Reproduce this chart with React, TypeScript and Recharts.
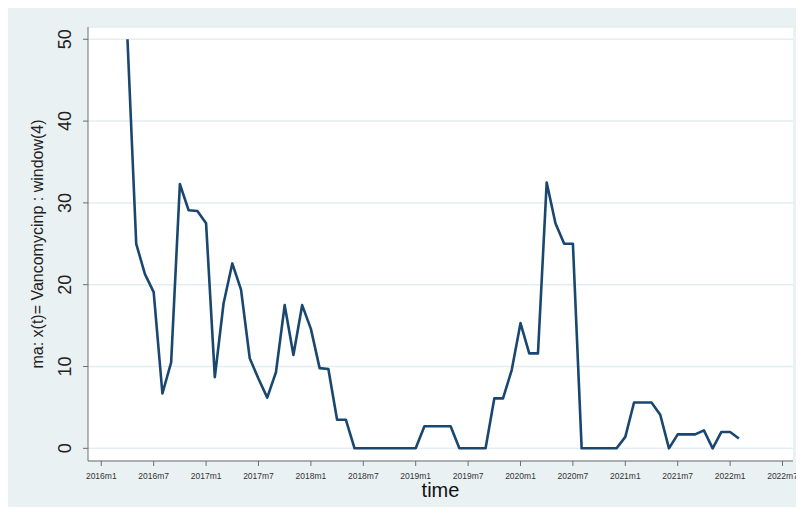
import React from 'react';
import { LineChart, Line, XAxis, YAxis, CartesianGrid } from 'recharts';

// months counted from 2016m1 = 0; series starts at 2016m4
const startMonth = 3;

// ma: x(t)= Vancomycinp : window(4), 2016m4 .. 2022m2
const maValues = [
  50, 25, 21.3, 19.1, 6.7, 10.5, 32.3, 29.1, 29.0,
  27.5, 8.7, 17.7, 22.6, 19.4, 11.0, 8.5, 6.2, 9.3, 17.5, 11.4, 17.5,
  14.6, 9.8, 9.7, 3.5, 3.5, 0, 0, 0, 0, 0, 0,
  0, 0, 2.7, 2.7, 2.7, 2.7, 0, 0, 0, 0,
  6.1, 6.1, 9.6, 15.3, 11.6, 11.6, 32.5, 27.5, 25.0, 25.0, 0, 0, 0, 0, 0,
  1.4, 5.6, 5.6, 5.6, 4.1, 0, 1.7, 1.7, 1.7, 2.2, 0, 2.0,
  2.0, 1.2
];

const xTickMonths = [0, 6, 12, 18, 24, 30, 36, 42, 48, 54, 60, 66, 72, 78];
const xTickLabels = [
  '2016m1', '2016m7', '2017m1', '2017m7', '2018m1', '2018m7', '2019m1',
  '2019m7', '2020m1', '2020m7', '2021m1', '2021m7', '2022m1', '2022m7'
];
const yTicks = [0, 10, 20, 30, 40, 50];

const data = maValues.map((v, i) => ({ t: startMonth + i, ma: v }));

const FONT = 'Arial, "Liberation Sans", Helvetica, sans-serif';
const AXIS_COLOR = '#6e6e6e';

function YTick(props: any) {
  const { x, y, payload } = props;
  return (
    <text
      transform={`translate(${x - 12}, ${y}) rotate(-90)`}
      textAnchor="middle"
      fontSize={18}
      fontFamily={FONT}
      fill="#222"
    >
      {payload.value}
    </text>
  );
}

function XTick(props: any) {
  const { x, y, payload } = props;
  const idx = xTickMonths.indexOf(payload.value);
  return (
    <text x={x} y={y + 13} textAnchor="middle" fontSize={8.5} fontFamily={FONT} fill="#333">
      {idx >= 0 ? xTickLabels[idx] : ''}
    </text>
  );
}

function YTitle(props: any) {
  const vb = props.viewBox;
  const cx = vb.x + 35;
  const cy = vb.y + vb.height / 2;
  return (
    <text
      transform={`translate(${cx}, ${cy}) rotate(-90)`}
      textAnchor="middle"
      fontSize={16}
      fontFamily={FONT}
      fill="#222"
    >
      ma: x(t)= Vancomycinp : window(4)
    </text>
  );
}

function XTitle(props: any) {
  const vb = props.viewBox;
  return (
    <text
      x={vb.x + vb.width / 2}
      y={vb.y + 36}
      textAnchor="middle"
      fontSize={20}
      fontFamily={FONT}
      fill="#111"
    >
      time
    </text>
  );
}

export default function App() {
  return (
    <div style={{ width: 792, height: 499, background: '#eaf1f3' }}>
      <LineChart
        width={792}
        height={499}
        data={data}
        margin={{ top: 19, right: 7, left: 0, bottom: 0 }}
      >
        <CartesianGrid
          horizontal
          vertical={false}
          fill="#ffffff"
          stroke="#e4edf0"
          strokeWidth={1.5}
        />
        <XAxis
          dataKey="t"
          type="number"
          domain={[-1.52, 79.2]}
          allowDataOverflow
          ticks={xTickMonths}
          interval={0}
          height={46}
          tickSize={5}
          tickMargin={0}
          stroke={AXIS_COLOR}
          tick={<XTick />}
          label={<XTitle />}
        />
        <YAxis
          type="number"
          domain={[-1.55, 51.5]}
          allowDataOverflow
          ticks={yTicks}
          interval={0}
          width={80}
          tickSize={5}
          tickMargin={0}
          stroke={AXIS_COLOR}
          tick={<YTick />}
          label={<YTitle />}
        />
        <Line
          type="linear"
          dataKey="ma"
          stroke="#1a476f"
          strokeWidth={2.6}
          strokeLinejoin="round"
          dot={false}
          activeDot={false}
          isAnimationActive={false}
        />
      </LineChart>
    </div>
  );
}
